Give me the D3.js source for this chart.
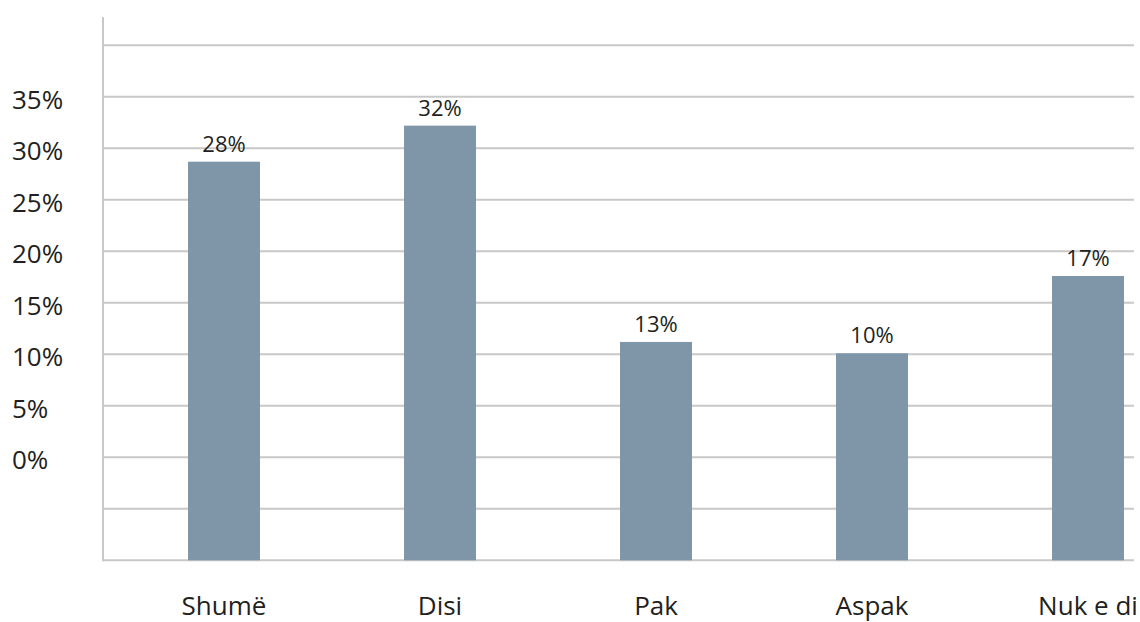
<!DOCTYPE html>
<html>
<head>
<meta charset="utf-8">
<script src="https://cdn.jsdelivr.net/npm/d3@7"></script>
<style>
  html, body { margin: 0; padding: 0; background: #fff; }
  svg { display: block; }
  text { font-family: "Open Sans", "Noto Sans", sans-serif; fill: #231f20; }
</style>
</head>
<body>
<svg id="chart" width="1140" height="622"></svg>
<script>
// Data
const categories = ["Shumë", "Disi", "Pak", "Aspak", "Nuk e di"];
const barValues = [28.7, 32.2, 11.2, 10.1, 17.6];      // plotted heights on the axis scale
const valueLabels = ["28%", "32%", "13%", "10%", "17%"]; // printed labels
const gridValues = [-10, -5, 0, 5, 10, 15, 20, 25, 30, 35, 40];
const tickLabelValues = [0, 5, 10, 15, 20, 25, 30, 35];

(function () {
  const svg = d3.select("#chart");
  const plotLeft = 103, plotRight = 1134, plotTop = 45.3, plotBottom = 560.3;

  const y = d3.scaleLinear().domain([-10, 40]).range([plotBottom, plotTop]);
  const x = d3.scalePoint().domain(categories).range([224, 1088]);
  const barW = 72;

  // gridlines
  svg.append("g").selectAll("line").data(gridValues).join("line")
    .attr("x1", plotLeft).attr("x2", plotRight)
    .attr("y1", d => y(d)).attr("y2", d => y(d))
    .attr("stroke", "#c8c8c8").attr("stroke-width", 2);

  // vertical axis line
  svg.append("line")
    .attr("x1", plotLeft).attr("x2", plotLeft)
    .attr("y1", 17).attr("y2", plotBottom + 1)
    .attr("stroke", "#c8c8c8").attr("stroke-width", 2);

  // y tick labels
  svg.append("g").selectAll("text").data(tickLabelValues).join("text")
    .attr("x", 12).attr("y", d => y(d) + 12)
    .attr("font-size", 26)
    .text(d => d + "%");

  // bars
  svg.append("g").selectAll("rect").data(categories).join("rect")
    .attr("x", d => x(d) - barW / 2)
    .attr("width", barW)
    .attr("y", (d, i) => y(barValues[i]))
    .attr("height", (d, i) => plotBottom - y(barValues[i]))
    .attr("fill", "#7f95a8");

  // value labels
  svg.append("g").selectAll("text").data(categories).join("text")
    .attr("x", d => x(d))
    .attr("y", (d, i) => y(barValues[i]) - 10)
    .attr("text-anchor", "middle")
    .attr("font-size", 22)
    .text((d, i) => valueLabels[i]);

  // category labels
  svg.append("g").selectAll("text").data(categories).join("text")
    .attr("x", d => x(d))
    .attr("y", 615)
    .attr("text-anchor", "middle")
    .attr("font-size", 26)
    .text(d => d);
})();
</script>
</body>
</html>
